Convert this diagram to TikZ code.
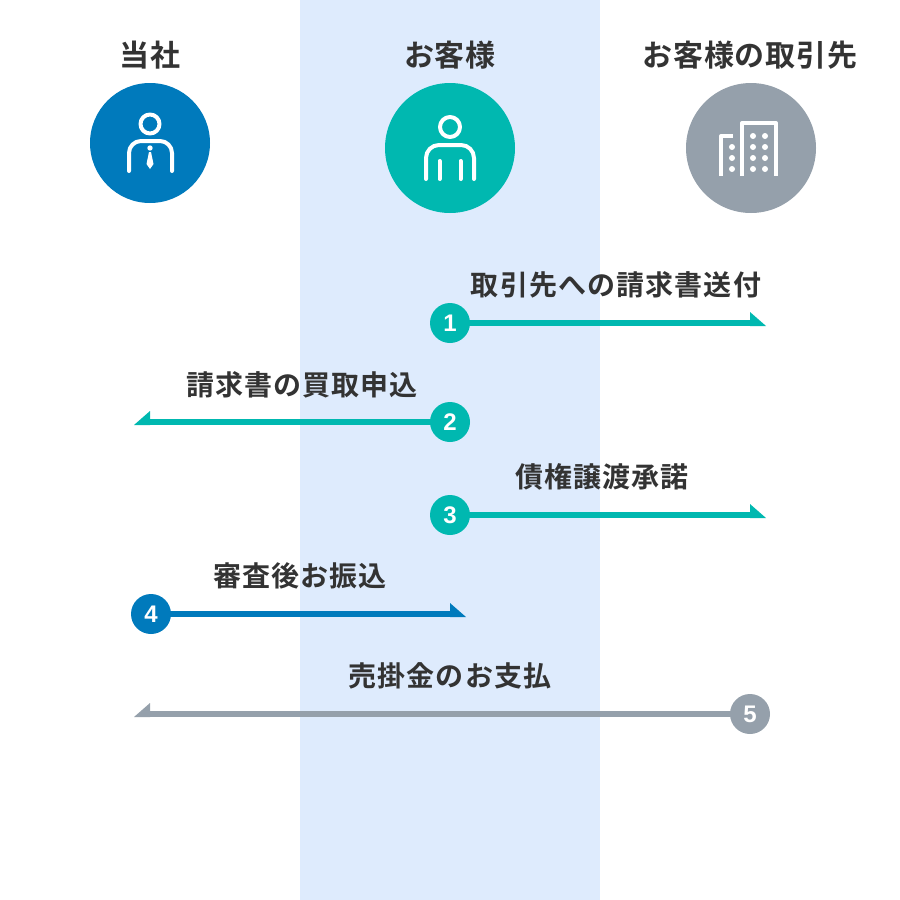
\documentclass[tikz,border=0pt]{standalone}
\usepackage{fontspec}
\setmainfont{Noto Sans CJK JP}[BoldFont={* Bold}]
\newfontfamily\numfont{Liberation Sans}
\usepackage{tikz}
\usetikzlibrary{positioning}
\definecolor{ourblue}{HTML}{007ABC}
\definecolor{ourteal}{HTML}{00B8B0}
\definecolor{ourgray}{HTML}{95A0AB}
\definecolor{bandblue}{HTML}{DEEBFD}
\definecolor{labelgray}{HTML}{333333}
\tikzset{
    header/.style={text=labelgray, font=\fontsize{30}{34}\selectfont\bfseries\addfontfeature{LetterSpace=3}},
    steplabel/.style={text=labelgray, font=\fontsize{28}{32}\selectfont\bfseries\addfontfeature{LetterSpace=4}},
    badge/.style={circle, inner sep=0pt, minimum size=40pt, text=white, font=\fontsize{24}{24}\selectfont\numfont\bfseries},
    avatar/.style={circle, inner sep=0pt},
    icon/.style={draw=white, line width=4pt, line cap=round, line join=round},
    flow/.style={line width=6pt},
}

\begin{document}
\begin{tikzpicture}[x=1pt, y=-1pt]
    \useasboundingbox (0,0) rectangle (900,900);
    \fill[bandblue] (300,0) rectangle (600,900);

    \node[header] (H1) at (150,55) {当社};
    \node[header] (H2) at (450,55) {お客様};
    \node[header] (H3) at (750,55) {お客様の取引先};

    \node[avatar, fill=ourblue, minimum size=120pt] (C1) at (150,143) {};
    \node[avatar, fill=ourteal, minimum size=130pt] (C2) at (450,148) {};
    \node[avatar, fill=ourgray, minimum size=130pt] (C3) at (751,148) {};

    % staff
    \draw[icon] (150,124) circle (9.5);
    \draw[icon, rounded corners=12pt] (129,171) -- (129,141) -- (172,141) -- (172,171);
    \fill[white] (150,148) circle (2.7);
    \fill[white] (149,152) -- (151,152) -- (153.5,164) -- (150,169) -- (146.5,164) -- cycle;

    % customer
    \draw[icon] (450,127) circle (10);
    \draw[icon, rounded corners=13pt] (426,179) -- (426,145) -- (474,145) -- (474,179);
    \draw[icon] (439.5,161) -- (439.5,179);
    \draw[icon] (460.5,161) -- (460.5,179);

    % buildings
    \draw[icon, line cap=butt] (721,176) -- (721,136) -- (733,136);
    \draw[icon, line cap=butt] (742,176) -- (742,123) -- (776,123) -- (776,176);
    \foreach \y in {147,158,169}
        \fill[white] (732,\y) circle (3);
    \foreach \y in {136,147,158,169} {
        \fill[white] (753,\y) circle (3);
        \fill[white] (765,\y) circle (3);
    }

    % step 1
    \node[steplabel] (L1) at (616,285) {取引先への請求書送付};
    \coordinate (E1) at (750,323);
    \draw[flow, ourteal] (450,323) -- (E1);
    \fill[ourteal] (E1) ++(0,3) -- ++(16,0) -- ++(-16,-14) -- cycle;
    \node[badge, fill=ourteal] (N1) at (450,323) {1};

    % step 2
    \node[steplabel] (L2) at (302,385) {請求書の買取申込};
    \coordinate (E2) at (150,422);
    \draw[flow, ourteal] (450,422) -- (E2);
    \fill[ourteal] (E2) ++(0,3) -- ++(-16,0) -- ++(16,-14) -- cycle;
    \node[badge, fill=ourteal] (N2) at (450,422) {2};

    % step 3
    \node[steplabel] (L3) at (602,477) {債権譲渡承諾};
    \coordinate (E3) at (750,515);
    \draw[flow, ourteal] (450,515) -- (E3);
    \fill[ourteal] (E3) ++(0,3) -- ++(16,0) -- ++(-16,-14) -- cycle;
    \node[badge, fill=ourteal] (N3) at (450,515) {3};

    % step 4
    \node[steplabel] (L4) at (300,576) {審査後お振込};
    \coordinate (E4) at (450,614);
    \draw[flow, ourblue] (151,614) -- (E4);
    \fill[ourblue] (E4) ++(0,3) -- ++(16,0) -- ++(-16,-14) -- cycle;
    \node[badge, fill=ourblue] (N4) at (151,614) {4};

    % step 5
    \node[steplabel] (L5) at (450,676) {売掛金のお支払};
    \coordinate (E5) at (150,714);
    \draw[flow, ourgray] (750,714) -- (E5);
    \fill[ourgray] (E5) ++(0,3) -- ++(-16,0) -- ++(16,-14) -- cycle;
    \node[badge, fill=ourgray] (N5) at (750,714) {5};
\end{tikzpicture}
\end{document}
